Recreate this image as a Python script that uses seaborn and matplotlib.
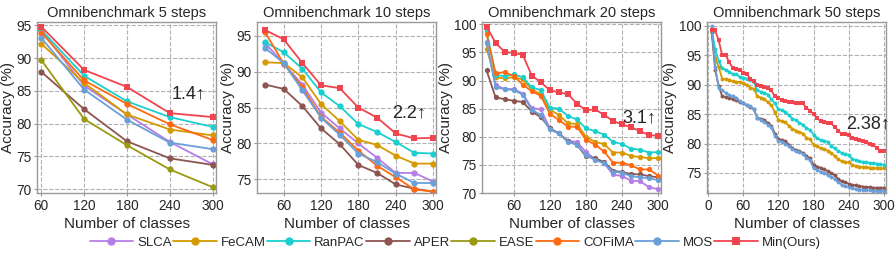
import matplotlib
matplotlib.use('Agg')
import matplotlib.pyplot as plt
import seaborn as sns
import numpy as np
import pandas as pd

# methods / colours
methods = ['SLCA', 'FeCAM', 'RanPAC', 'APER', 'EASE', 'COFiMA', 'MOS', 'Min(Ours)']
colors = ['#b57ee6', '#d69a00', '#1ccfcf', '#8c5550', '#9a9a12', '#ff6a10', '#6a9fd8', '#f2444e']

# 5 steps
x5 = [60, 120, 180, 240, 300]
s5 = {
    'SLCA': [94.2, 85.8, 81.4, 77.2, 73.8],
    'FeCAM': [92.2, 86.2, 81.4, 79.1, 78.2],
    'RanPAC': [94.3, 87.3, 83.4, 81.0, 79.5],
    'APER': [87.9, 82.2, 77.3, 74.7, 73.7],
    'EASE': [89.7, 80.7, 76.7, 73.0, 70.3],
    'COFiMA': [93.9, 86.6, 83.0, 79.9, 77.5],
    'MOS': [93.1, 85.2, 80.6, 77.1, 76.1],
    'Min(Ours)': [94.8, 88.2, 85.6, 81.6, 81.0],
}

# 10 steps
x10 = [30, 60, 90, 120, 150, 180, 210, 240, 270, 300]
s10 = {
    'SLCA': [94.0, 91.1, 88.2, 84.3, 82.1, 80.0, 78.0, 75.9, 75.9, 74.7],
    'FeCAM': [91.3, 91.2, 89.2, 85.5, 83.1, 80.5, 79.8, 78.3, 77.2, 77.2],
    'RanPAC': [94.1, 92.7, 90.4, 87.1, 85.2, 82.7, 81.6, 80.2, 78.7, 78.6],
    'APER': [88.2, 87.6, 85.2, 82.1, 79.9, 77.0, 75.9, 74.3, 73.7, 73.3],
    'COFiMA': [95.5, 91.1, 87.8, 83.7, 81.5, 79.0, 76.9, 75.3, 73.6, 73.3],
    'MOS': [93.3, 91.2, 87.4, 83.6, 81.2, 78.6, 77.4, 75.8, 74.5, 74.5],
    'Min(Ours)': [95.8, 94.5, 91.2, 88.1, 87.7, 85.0, 83.6, 81.4, 80.7, 80.8],
}

# 20 steps
x20 = [15, 30, 45, 60, 75, 90, 105, 120, 135, 150, 165, 180, 195, 210, 225, 240, 255, 270, 285, 300]
s20 = {
    'SLCA': [96.8, 89.2, 88.5, 88.5, 87.7, 85.1, 84.9, 81.5, 80.6, 79.3,
             79.1, 77.3, 76.0, 75.3, 73.3, 73.0, 72.2, 72.1, 71.0, 70.7],
    'FeCAM': [95.6, 90.6, 90.4, 90.6, 90.2, 88.4, 87.6, 84.8, 83.9, 82.4,
              82.3, 80.0, 79.1, 78.7, 77.2, 77.2, 76.6, 76.4, 76.2, 76.2],
    'RanPAC': [98.8, 91.0, 90.8, 91.1, 90.6, 88.8, 88.3, 85.2, 85.0, 83.7,
               83.1, 81.5, 81.0, 80.4, 79.1, 78.7, 77.9, 77.7, 77.2, 77.3],
    'APER': [91.8, 87.0, 86.7, 86.4, 86.2, 84.5, 83.5, 81.5, 80.6, 79.2,
             78.6, 76.5, 76.2, 75.5, 74.0, 73.7, 73.4, 73.3, 73.0, 72.8],
    'COFiMA': [98.2, 91.3, 91.5, 90.8, 89.3, 88.1, 87.3, 84.1, 83.0, 81.8,
               81.8, 79.5, 78.6, 77.4, 75.4, 75.4, 74.9, 74.2, 74.2, 73.1],
    'MOS': [96.7, 88.8, 88.5, 88.3, 87.5, 84.8, 83.9, 81.3, 80.6, 79.1,
            78.6, 76.7, 75.9, 75.3, 73.8, 73.6, 73.0, 72.8, 72.6, 72.3],
    'Min(Ours)': [99.6, 96.7, 95.1, 94.9, 94.6, 90.9, 89.7, 88.3, 87.9, 87.6,
                  85.9, 84.7, 84.9, 83.9, 82.8, 82.2, 81.7, 81.0, 80.3, 80.2],
}

# 50 steps
x50 = list(range(6, 301, 6))
s50 = {
    'FeCAM': [99.0, 94.5, 93.0, 91.0, 90.9, 90.8, 90.6, 90.5, 90.4, 90.2,
              90.0, 89.5, 89.3, 88.0, 87.8, 87.6, 87.0, 86.5, 85.3, 84.0,
              83.8, 83.6, 83.0, 82.5, 82.2, 81.9, 81.7, 81.0, 80.7, 79.8,
              79.5, 79.2, 79.0, 78.8, 78.4, 77.9, 77.3, 77.0, 76.9, 76.8,
              76.4, 76.2, 76.1, 76.0, 76.0, 75.9, 75.9, 75.8, 75.8, 75.8],
    'RanPAC': [99.5, 96.0, 94.0, 92.8, 92.5, 92.2, 91.8, 91.8, 91.3, 91.2,
               91.0, 90.8, 90.5, 89.0, 88.8, 88.6, 88.3, 87.5, 86.8, 85.8,
               85.7, 85.4, 84.8, 84.2, 84.0, 83.5, 83.2, 82.6, 82.3, 81.5,
               80.9, 80.6, 80.5, 80.3, 79.6, 79.2, 78.7, 78.4, 78.2, 78.1,
               77.4, 77.2, 77.0, 76.9, 76.8, 76.7, 76.7, 76.6, 76.5, 76.4],
    'APER': [99.0, 92.5, 89.8, 88.0, 87.9, 87.8, 87.5, 87.3, 87.0, 86.8,
             86.5, 86.2, 85.8, 84.4, 84.2, 84.0, 83.5, 83.0, 81.7, 80.8,
             80.6, 80.4, 79.8, 79.2, 78.9, 78.7, 78.4, 77.9, 77.5, 76.4,
             76.1, 75.9, 75.6, 75.3, 75.0, 74.6, 74.0, 73.6, 73.4, 73.2,
             73.0, 72.9, 72.8, 72.7, 72.6, 72.6, 72.5, 72.5, 72.5, 72.5],
    'MOS': [100.0, 93.0, 89.5, 89.0, 88.6, 88.2, 88.0, 87.8, 87.2, 86.8,
            86.5, 86.3, 85.8, 84.3, 84.0, 83.6, 83.2, 82.8, 81.3, 80.5,
            80.3, 80.0, 79.5, 79.0, 78.7, 78.6, 78.2, 77.6, 77.2, 75.8,
            75.5, 75.2, 75.0, 74.7, 74.3, 74.0, 73.5, 73.0, 72.8, 72.6,
            72.4, 72.3, 72.2, 72.2, 72.1, 72.1, 72.0, 72.0, 72.0, 72.0],
    'Min(Ours)': [99.2, 99.2, 97.5, 95.0, 95.0, 93.8, 92.8, 92.7, 92.5, 92.0,
                  91.8, 91.0, 90.6, 89.9, 89.8, 89.6, 89.4, 89.0, 88.0, 87.7,
                  87.4, 87.2, 87.1, 87.0, 86.9, 86.9, 86.8, 86.0, 85.6, 85.0,
                  84.3, 83.8, 83.6, 83.5, 83.4, 82.8, 82.2, 81.6, 81.6, 81.5,
                  81.0, 80.8, 80.6, 80.5, 80.3, 80.0, 79.7, 79.3, 78.8, 78.8],
}

titles = ['Omnibenchmark 5 steps', 'Omnibenchmark 10 steps', 'Omnibenchmark 20 steps', 'Omnibenchmark 50 steps']
gains = ['1.4\u2191', '2.2\u2191', '3.1\u2191', '2.38\u2191']

sns.set_theme(style='white')
plt.rcParams['font.family'] = ['Liberation Sans', 'DejaVu Sans']

fig = plt.figure(figsize=(8.96, 2.54), dpi=100)
lefts = [0.0413, 0.2868, 0.538, 0.789]
axs = [fig.add_axes([l, 0.240, 0.200, 0.673]) for l in lefts]

panels = [(x5, s5), (x10, s10), (x20, s20), (x50, s50)]
msz = [4.5, 4.5, 3.8, 2.8]
xlims = [(54, 305), (17, 305), (7.5, 305), (-2, 304)]
ylims = [(69.4, 95.5), (73.1, 96.9), (70, 100.4), (71.6, 100.6)]
yticks = [[70, 75, 80, 85, 90, 95], [75, 80, 85, 90, 95], [70, 75, 80, 85, 90, 95, 100], [75, 80, 85, 90, 95, 100]]
xticks = [[60, 120, 180, 240, 300], [60, 120, 180, 240, 300], [60, 120, 180, 240, 300], [0, 60, 120, 180, 240, 300]]
txt_pos = [(243, 84.5), (235, 84.3), (240, 83.3), (235, 83.3)]

for i, ax in enumerate(axs):
    xs, series = panels[i]
    for m, c in zip(methods, colors):
        if m not in series:
            continue
        mk = 's' if m == 'Min(Ours)' else 'o'
        sns.lineplot(x=xs, y=series[m], ax=ax, color=c, marker=mk, markersize=msz[i],
                     markeredgewidth=0, lw=1.3, legend=False)
    ax.set_xlim(*xlims[i])
    ax.set_ylim(*ylims[i])
    ax.set_xticks(xticks[i])
    ax.set_yticks(yticks[i])
    ax.grid(True, ls='--', color='#b0b0b0', lw=0.8)
    for sp in ax.spines.values():
        sp.set_color('#999999')
        sp.set_linewidth(1.0)
    ax.tick_params(axis='both', labelsize=9.8, length=2.5, width=0.8, color='#999999', pad=1.5, direction='out',
                   bottom=True, left=True)
    ax.set_title(titles[i], fontsize=10.5, pad=4)
    ax.set_xlabel('Number of classes', fontsize=11, labelpad=3)
    ax.set_ylabel('Accuracy (%)', fontsize=11, labelpad=1)
    ax.text(txt_pos[i][0], txt_pos[i][1], gains[i], fontsize=13, ha='left', va='center')

hs = [plt.Line2D([], [], color=c, lw=1.3, marker='s' if m == 'Min(Ours)' else 'o', markersize=6, markeredgewidth=0)
      for m, c in zip(methods, colors)]
fig.legend(hs, methods, loc='center', bbox_to_anchor=(0.508, 0.045), ncol=8, frameon=False, fontsize=9.5,
           handlelength=3.3, columnspacing=0.1, handletextpad=0.3)

fig.savefig('out.png', dpi=100)
